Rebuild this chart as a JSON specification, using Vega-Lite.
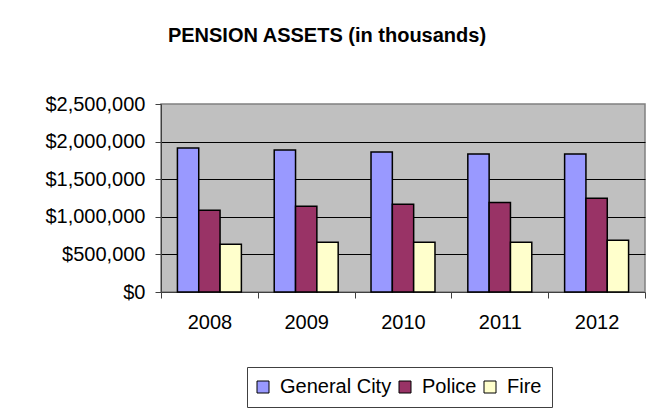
{
  "$schema": "https://vega.github.io/schema/vega-lite/v6.json",
  "width": 484,
  "height": 188,
  "autosize": {"type": "none"},
  "padding": {"left": 161, "top": 104, "right": 23, "bottom": 124},
  "background": "white",
  "title": {
    "text": "PENSION ASSETS (in thousands)",
    "font": "Liberation Sans",
    "fontSize": 20,
    "fontWeight": "bold",
    "color": "black",
    "anchor": "middle",
    "dx": -76,
    "offset": 48
  },
  "config": {
    "view": {"fill": "#C0C0C0", "stroke": "#808080", "strokeWidth": 1.5}
  },
  "data": {
    "values": [
      {"year": "2008", "fund": "General City", "assets": 1914000},
      {"year": "2008", "fund": "Police", "assets": 1088000},
      {"year": "2008", "fund": "Fire", "assets": 635000},
      {"year": "2009", "fund": "General City", "assets": 1887000},
      {"year": "2009", "fund": "Police", "assets": 1141000},
      {"year": "2009", "fund": "Fire", "assets": 662000},
      {"year": "2010", "fund": "General City", "assets": 1861000},
      {"year": "2010", "fund": "Police", "assets": 1168000},
      {"year": "2010", "fund": "Fire", "assets": 662000},
      {"year": "2011", "fund": "General City", "assets": 1834000},
      {"year": "2011", "fund": "Police", "assets": 1190000},
      {"year": "2011", "fund": "Fire", "assets": 662000},
      {"year": "2012", "fund": "General City", "assets": 1834000},
      {"year": "2012", "fund": "Police", "assets": 1248000},
      {"year": "2012", "fund": "Fire", "assets": 688000}
    ]
  },
  "mark": {"type": "bar", "stroke": "black", "strokeWidth": 1.5},
  "encoding": {
    "x": {
      "field": "year",
      "type": "nominal",
      "scale": {"paddingInner": 0, "paddingOuter": 0},
      "axis": {
        "title": null,
        "labelAngle": 0,
        "tickBand": "extent",
        "ticks": true,
        "tickSize": 6,
        "tickColor": "#404040",
        "domainColor": "#404040",
        "labelFont": "Liberation Sans",
        "labelFontSize": 20,
        "labelColor": "black",
        "labelPadding": 14,
        "grid": false
      }
    },
    "xOffset": {
      "field": "fund",
      "type": "nominal",
      "sort": ["General City", "Police", "Fire"],
      "scale": {"paddingInner": 0, "paddingOuter": 0.77}
    },
    "y": {
      "field": "assets",
      "type": "quantitative",
      "scale": {"domain": [0, 2500000], "nice": false},
      "axis": {
        "title": null,
        "values": [0, 500000, 1000000, 1500000, 2000000, 2500000],
        "format": "$,.0f",
        "grid": true,
        "gridColor": {"condition": {"test": "datum.value === 2500000 || datum.value === 0", "value": "transparent"}, "value": "black"},
        "gridWidth": 1,
        "tickSize": 6,
        "tickColor": "#404040",
        "domainColor": "#404040",
        "labelFont": "Liberation Sans",
        "labelFontSize": 20,
        "labelColor": "black",
        "labelPadding": 10
      }
    },
    "color": {
      "field": "fund",
      "type": "nominal",
      "sort": ["General City", "Police", "Fire"],
      "scale": {"domain": ["General City", "Police", "Fire"], "range": ["#9999FF", "#993366", "#FFFFCC"]},
      "legend": {
        "title": null,
        "orient": "none",
        "legendX": 86,
        "legendY": 263,
        "direction": "horizontal",
        "symbolType": "square",
        "symbolSize": 144,
        "symbolStrokeColor": "black",
        "symbolStrokeWidth": 1,
        "symbolOffset": -4,
        "labelFont": "Liberation Sans",
        "labelFontSize": 20,
        "labelColor": "black",
        "labelOffset": 7,
        "labelLimit": 0,
        "columnPadding": 5,
        "padding": 10,
        "strokeColor": "#404040",
        "fillColor": "white"
      }
    }
  }
}
